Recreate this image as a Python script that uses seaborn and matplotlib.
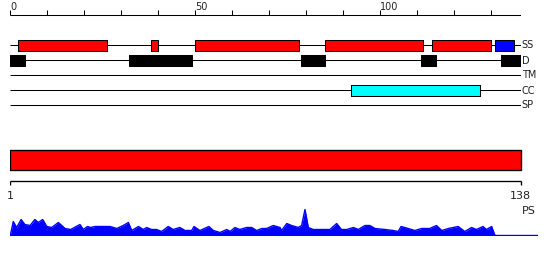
import matplotlib
matplotlib.use("Agg")
import matplotlib.pyplot as plt
import seaborn as sns
import pandas as pd

sns.set_theme(style="white")
plt.rcParams['font.family'] = ['DejaVu Sans']

# ---- data ----
seq_len = 138
row_labels = ["SS", "D", "TM", "CC", "SP"]
ss_red = [(2, 26), (38, 40), (50, 78), (85, 111.6), (114, 130)]
ss_blue = [(131, 136)]
d_black = [(0, 4), (32, 49), (78.5, 85), (111, 115), (132.5, 138)]
cc_cyan = [(92, 127)]
top_ticks = list(range(0, 140, 10))
top_tick_labels = {0: "0", 50: "50", 100: "100"}

ps_pos = [1.0, 1.8, 2.7, 3.9, 4.9, 6.3, 7.6, 8.5, 9.7, 10.8, 12.1, 13.9, 15.7, 17.2,
          19.7, 20.6, 21.7, 22.6, 23.7, 27.8, 29.6, 31.3, 32.7, 33.6, 35.4, 36.7,
          37.6, 38.9, 40.3, 41.6, 43.4, 44.7, 46.5, 47.9, 49.7, 50.3, 51.9, 54.3,
          55.5, 57.3, 59.1, 60.0, 61.3, 62.6, 64.4, 65.8, 67.1, 68.5, 69.8, 71.6,
          73.4, 73.8, 75.2, 76.5, 78.3, 79.2, 80.1, 81.0, 82.3, 83.7, 86.8, 88.6,
          89.9, 91.3, 93.1, 94.4, 96.2, 97.5, 98.9, 101.6, 103.8, 105.1, 105.9,
          107.8, 109.6, 111.4, 113.6, 115.4, 116.8, 118.6, 121.2, 123.0, 124.8,
          126.1, 127.9, 128.8, 130.2, 131.1, 142.6]
ps_val = [0, 14, 8, 16, 11, 10, 16, 13, 16, 9, 8, 13, 7, 6,
          11, 6, 9, 8, 9, 9, 7, 10, 13, 5, 9, 6,
          8, 6, 6, 4, 9, 6, 8, 5, 5, 9, 5, 9,
          5, 3, 6, 4, 8, 6, 8, 8, 5, 7, 7, 10,
          8, 5, 12, 10, 8, 10, 26, 8, 6, 6, 6, 12,
          6, 6, 8, 6, 10, 10, 7, 6, 5, 4, 9,
          7, 5, 7, 7, 10, 5, 7, 9, 4, 8,
          6, 9, 6, 9, 0, 0]

W, H = 550, 260
fig = plt.figure(figsize=(W / 100, H / 100), dpi=100)

def rect(x0, y0, x1, y1):
    return [x0 / W, (H - y1) / H, (x1 - x0) / W, (y1 - y0) / H]

lw = 0.75
fs_top = 7
fs_bot = 8

# ---- top tracks ----
ax = fig.add_axes(rect(10.3, 0, 521, 110))
ax.set_xlim(0, seq_len)
ax.set_ylim(110, 0)
ax.axis("off")
ax.hlines(14.7, 0, seq_len, color="black", lw=lw)
ax.vlines(top_ticks, 10, 14.7, color="black", lw=lw)
for t, lab in top_tick_labels.items():
    ax.text(t, 10.3, lab, ha="left", va="baseline", fontsize=fs_top, color="#222")

row_y = [45, 60, 75, 90, 105]
ax.hlines(row_y, 0, seq_len, color="black", lw=lw)
bh = 11
def boxes(spans, y, color):
    ax.broken_barh([(a, b - a) for a, b in spans], (y - bh / 2, bh),
                   facecolors=color, edgecolors="black", linewidth=lw, zorder=3)
boxes(ss_red, row_y[0], "#ff0000")
boxes(ss_blue, row_y[0], "#0000ff")
boxes(d_black, row_y[1], "#000000")
boxes(cc_cyan, row_y[3], "#00ffff")
for y, lab in zip(row_y, row_labels):
    ax.text(seq_len + 0.2, y + 0.5, lab, ha="left", va="center", fontsize=fs_top,
            color="#222", clip_on=False)

# ---- bottom protein bar & ruler ----
px_per = (520.7 - 10.3) / (seq_len - 1)
x_end = 1 + (538 - 10.3) / px_per
axb = fig.add_axes(rect(10.3, 140, 538, 220))
axb.set_xlim(1, x_end)
axb.set_ylim(220, 140)
axb.axis("off")
axb.broken_barh([(1, seq_len - 1)], (150.3, 20), facecolors="#ff0000",
                edgecolors="black", linewidth=lw * 1.3)
axb.hlines(180.7, 1, seq_len, color="black", lw=lw * 1.3)
axb.vlines([1, seq_len], 180.7, 185, color="black", lw=lw * 1.3)
axb.text(1, 199, "1", ha="center", va="baseline", fontsize=fs_bot, color="#222")
axb.text(seq_len, 199, str(seq_len), ha="center", va="baseline", fontsize=fs_bot, color="#222")
axb.text(seq_len + 0.3, 214.5, "PS", ha="left", va="baseline", fontsize=fs_bot, color="#222")

# ---- PS profile ----
axp = fig.add_axes(rect(10.3, 205, 538, 235.5))
df = pd.DataFrame({"pos": ps_pos, "val": ps_val})
sns.lineplot(data=df, x="pos", y="val", ax=axp, color="#0000ff", lw=1)
axp.fill_between(df["pos"], 0, df["val"], color="#0000ff", lw=0)
axp.set_xlim(1, x_end)
axp.set_ylim(0, 30.5)
axp.axis("off")

fig.savefig("out.png", dpi=100)
